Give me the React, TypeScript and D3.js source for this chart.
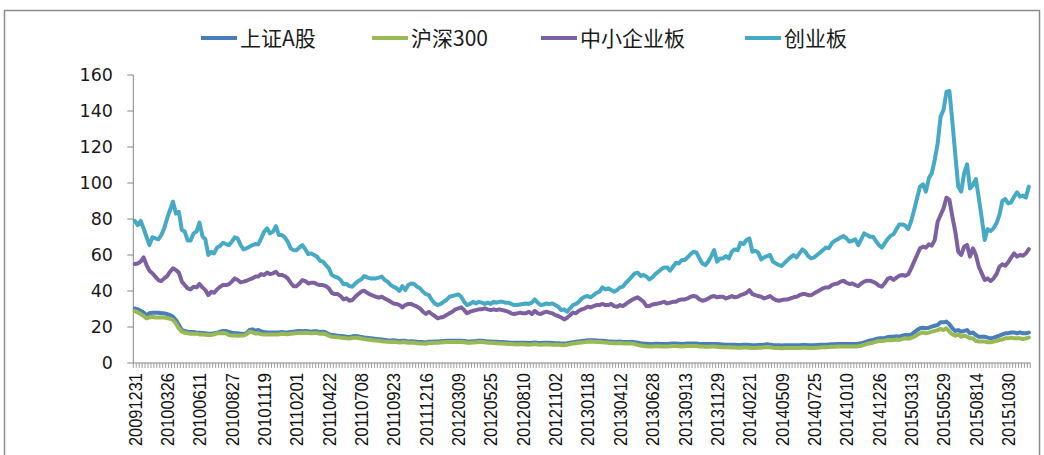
import React from "react";
import * as d3 from "d3";

// ---- data (weekly, 305 observations from 20091231) ----
const tickLabels = [
  "20091231","20100326","20100611","20100827","20101119","20110201","20110422",
  "20110708","20110923","20111216","20120309","20120525","20120810","20121102",
  "20130118","20130412","20130628","20130913","20131129","20140221","20140509",
  "20140725","20141010","20141226","20150313","20150529","20150814","20151030",
];
const tickEvery = 11;
const yTicks = [0, 20, 40, 60, 80, 100, 120, 140, 160];

const shA = [
  30.3,29.8,29,28.1,26.6,27.6,27.9,27.9,27.9,27.6,
  27.6,27.2,26.6,25.7,23.9,21.1,18.3,17.8,17.4,17.2,
  17.2,16.8,16.8,16.7,16.5,16.3,16.3,16.5,16.8,17.4,
  17.8,17.8,17.2,16.8,16.5,16.5,16.3,16.1,16.5,18.3,
  18.7,17.9,18.3,17.6,17.2,17,17,17,17,17,
  17.2,17.0,17.0,17.2,17.4,17.6,17.8,17.6,17.8,17.6,
  17.4,17.6,17.6,17.2,17.4,17.0,16.0,15.5,15.4,15.2,
  15.0,14.8,14.6,14.5,14.8,15.0,14.8,14.5,14.2,14.0,
  13.8,13.6,13.4,13.2,13.0,12.8,12.6,12.5,12.6,12.4,
  12.2,12.4,12.3,12.0,12.1,12.0,11.8,11.7,11.6,11.4,
  11.8,11.8,11.9,12.0,12.1,12.2,12.3,12.4,12.4,12.4,
  12.4,12.3,12.2,12.0,12.0,12.1,12.2,12.4,12.3,12.2,
  12.0,11.9,11.8,11.8,11.7,11.6,11.5,11.4,11.3,11.3,
  11.2,11.3,11.3,11.2,11.1,11.2,11.4,11.2,11.1,11.2,
  11.3,11.2,11.1,11.0,11.0,10.9,10.8,11.0,11.3,11.6,
  11.8,12.0,12.2,12.4,12.6,12.7,12.6,12.5,12.4,12.3,
  12.2,12.0,11.9,11.8,11.8,11.9,11.7,11.6,11.7,11.8,
  11.6,11.3,11.0,10.8,10.7,10.6,10.6,10.7,10.7,10.6,
  10.6,10.6,10.7,10.8,10.8,10.7,10.6,10.7,10.8,10.9,
  10.9,10.8,10.6,10.5,10.5,10.5,10.6,10.6,10.5,10.4,
  10.3,10.2,10.2,10.1,10.1,10.0,10.0,10.1,10.1,10.0,
  9.9,9.9,10.0,10.0,10.2,10.4,10.2,10.0,9.9,9.8,
  9.7,9.8,9.8,9.8,9.9,9.9,9.9,10.0,10.0,9.9,
  9.9,9.9,10.0,10.1,10.2,10.2,10.3,10.4,10.4,10.5,
  10.5,10.6,10.6,10.5,10.6,10.6,10.7,11.0,11.5,12.0,
  12.5,12.8,13.3,13.7,13.7,13.9,14.4,14.6,14.6,14.8,
  14.6,15.2,15.6,15.4,15.8,17,18.3,19.3,19.6,19.3,
  19.6,20.2,20.7,21.1,22.6,22.6,23,21.5,19.3,17.8,
  18.3,17.4,17.8,18.3,16.5,17,15.6,14.6,14.6,14.6,
  14.1,13.7,14.1,14.6,15.2,15.9,16.5,16.5,17,17,
  16.5,17,16.5,16.5,16.9,
];

const hs300 = [
  28.9,28.1,27.2,26.1,24.8,25.3,25.7,25.3,25.3,25.3,
  25.3,25,24.6,23.9,22,19.2,17.4,16.8,16.5,16.3,
  16.3,16.3,15.9,15.9,15.7,15.5,15.6,15.9,16.5,16.5,
  16.6,16.5,15.6,15.3,15.3,15.2,15.3,15.3,15.9,17.4,
  17,16.4,16.5,16,15.9,15.9,15.9,15.8,15.9,15.9,
  16.2,16.1,16.0,16.2,16.4,16.6,16.8,16.7,16.8,16.7,
  16.5,16.7,16.6,16.3,16.4,16.0,15.1,14.6,14.5,14.3,
  14.1,13.9,13.7,13.6,13.9,14.1,13.9,13.6,13.3,13.1,
  12.9,12.7,12.5,12.3,12.1,11.9,11.8,11.7,11.8,11.6,
  11.4,11.6,11.5,11.2,11.3,11.2,11.0,10.9,10.8,10.7,
  11.1,11.1,11.2,11.3,11.4,11.5,11.6,11.7,11.7,11.7,
  11.7,11.6,11.5,11.3,11.3,11.4,11.5,11.7,11.6,11.5,
  11.3,11.2,11.1,11.0,10.9,10.8,10.7,10.6,10.5,10.4,
  10.3,10.4,10.4,10.3,10.2,10.3,10.5,10.3,10.2,10.3,
  10.4,10.3,10.2,10.1,10.1,10.0,9.9,10.1,10.5,10.8,
  11.0,11.2,11.4,11.6,11.8,11.9,11.8,11.7,11.6,11.5,
  11.4,11.2,11.1,11.0,11.0,11.1,10.9,10.8,10.9,10.9,
  10.5,10.1,9.7,9.5,9.3,9.2,9.2,9.3,9.3,9.2,
  9.2,9.2,9.3,9.4,9.4,9.3,9.2,9.3,9.4,9.5,
  9.5,9.4,9.2,9.1,9.0,9.0,9.1,9.1,9.0,8.9,
  8.8,8.7,8.7,8.6,8.6,8.5,8.5,8.6,8.6,8.5,
  8.4,8.4,8.5,8.5,8.7,8.9,8.7,8.5,8.4,8.3,
  8.2,8.3,8.3,8.3,8.4,8.4,8.4,8.5,8.5,8.4,
  8.4,8.4,8.5,8.6,8.8,8.8,8.9,9.0,9.0,9.1,
  9.1,9.2,9.2,9.1,9.2,9.2,9.3,9.6,10.1,10.6,
  11.0,11.3,11.8,12.2,12.2,12.4,12.8,12.6,12.8,13.0,
  12.8,13.4,13.7,13.5,13.9,14.6,15.6,16.5,17.0,16.5,
  16.9,17.4,17.8,18.3,18.9,18.3,19.3,17.4,15.9,15.2,
  15.9,14.6,15.2,14.6,13.7,13.7,12.2,11.9,11.9,11.9,
  11.5,11.5,11.9,12.2,12.8,13.1,13.7,13.7,14.1,13.7,
  13.7,13.7,13.3,13.7,14.1,
];

const zxb = [
  55,55.3,56.3,58.7,54.4,51.3,49.8,48,46.1,45.5,
  47,48.3,50.7,52.6,51.6,50.2,45.2,43.3,41.5,40.9,
  42.4,42,43.9,42,40.5,37.7,39.6,39,40.9,42.4,
  43.3,43.3,43.7,45.2,47,46.1,44.8,45.2,45.7,46.4,
  47,48,48,49.4,48.9,50.2,49.4,49.8,50.7,48.9,
  48.9,48.3,47,44.6,42.7,42.7,44.2,46.1,45.5,44.2,
  44.6,44.6,43.7,43.3,43.3,42.7,41.5,39,38.3,38.3,
  37.2,35.3,35.9,34.6,35,36.8,38.3,39.6,40.2,39,
  38.1,37.4,36.8,36.3,36.8,35.9,35,34,33.1,32.8,
  32.2,30.9,32.2,32.8,32.8,32,31.3,30.3,28.5,27.2,
  28.5,27.2,26.1,24.8,25.3,25.7,26.6,27.6,28.5,29.8,
  30.3,30.9,29.4,27.6,28.5,29,29.4,29.8,29.8,30.3,
  29.8,29.4,29.8,29.4,29.8,29.4,29,28.5,27.6,27.2,
  27.6,28,27.6,27.6,28.5,27.2,29,27.6,27.2,28,
  28.5,28,27.6,26.6,26.1,25.3,24.2,25.1,26.6,28,
  27.6,29,29.8,30.3,31.3,30.9,31.6,32.2,32.2,32.8,
  32.2,32.2,32.8,31.6,31.3,32.2,31.6,32.8,34,35,
  35.9,36.5,35.3,34,31.6,31.6,32.5,32.8,33.1,33.5,
  34,33.1,33.5,34,34,35,35.3,35.3,35.9,36.8,
  37.2,36.8,35.3,34.6,35,35.9,36.8,37.2,36.5,36.8,
  36.8,35.9,36.5,37.2,36.5,36.8,37.7,38.3,39,40.5,
  38.3,37.7,37.2,36.8,35.9,36.5,37.2,35.9,35,34.6,
  35,35.3,35.3,35.9,36.5,36.8,37.7,38.3,38.3,37.7,
  37.7,38.7,39.6,40.5,41.5,42,42,43.3,43.9,44.2,
  45.2,45.7,44.6,43.9,44.2,43.3,42.7,44.2,45.2,45.7,
  45.7,45.2,44.3,43,42.4,44.3,46.7,47.4,46.1,47.4,
  48.5,48.9,48.5,49.3,52.6,56.3,60,63.7,64.6,64.1,
  65.9,65.2,68.3,78.5,82.2,85.9,91.9,90.6,81.3,73,
  61.9,60,64.6,65.6,59.1,63.7,60,53.5,49.8,46.1,
  47,45.6,47,49.3,53.5,54.8,54.1,56,58.5,60.9,
  59.1,60,59.6,60.9,63.3,
];

const cyb = [
  79,76.6,79,74.8,70,65.5,69.8,69.2,68.7,71,
  74.8,80.3,85,89.6,83,84,73.9,73,68,68,
  72,73,78,70.5,68.7,60,61.8,60.9,64.2,65,
  66.8,66.1,65.5,67.4,69.8,69.2,65.5,63.1,63.7,64.6,
  65.5,66.1,65.9,69.2,73,74.8,72,73,76,71.1,
  71.1,69.8,67.4,63.7,62.7,62.7,64.2,65.5,63.1,60.5,
  60.9,60,59,56.8,56.3,54.4,52.6,48.9,48,47.4,
  46.1,43.7,43.9,42.7,42.4,44.2,45.5,46.4,48.3,47.6,
  47,47,47,47.4,48,46.1,45.2,43.3,42.4,41.5,
  40,42.7,40.5,43.3,44.2,43.9,42.4,41.5,39.6,38.3,
  37.7,35,33.1,32.2,32.8,34,35,36.8,37.2,37.7,
  38.1,36.8,34,32.2,32.8,34,33.1,34,33.5,32.8,
  33.5,32.8,34,33.5,34,34,33.5,33.5,32.8,32.2,
  32.2,32.5,32.8,33.1,32.8,33.5,35.3,33.5,32.2,32.5,
  33.1,32.8,33.1,32.2,31.3,29.4,29.8,28.5,30.3,32.2,
  32.8,34,35.9,36.8,37.2,36.5,37.7,39,39.6,42,
  40.9,41.5,40.5,39.6,40.5,42,42.4,44.6,46.1,48,
  49.8,50.2,48.3,48.9,48,46.4,47.6,49.4,50.7,52,
  53.1,53.1,51.3,53.5,55.7,55.3,57.2,57.2,58.7,60.5,
  61.8,61.3,58.1,55.3,54.4,56.3,59.4,62.7,56.3,58.1,
  58.1,59.4,58.1,61.8,63.1,62.7,66.8,66.1,68.3,69.2,
  61.8,62.4,61.3,57.6,58.7,59.4,60,56.3,55.3,54.4,
  53.9,55.7,57.2,58.7,60,58.7,60.9,63.1,61.8,59.4,
  58.1,58.7,60,61.3,62.7,64.2,63.7,66.5,67.9,68.7,
  69.8,70.5,69.2,67.4,67.9,68.7,65.5,68.7,72,71.1,
  70.2,70.2,67.8,65.6,64.1,66.5,68.9,70.7,71.5,74.4,
  77,77,76.3,74.4,78.9,85,91.5,98,99.3,95.2,
  102.6,105.4,112.8,122,136.9,140.6,150.7,151.1,134.1,115.6,
  98,95.2,105.4,110.4,97,98.9,102.2,91.5,80.4,68.3,
  74.4,73.3,74.8,77.6,82.2,90,91.1,88.7,89.3,92.4,
  94.8,92.4,93,91.9,98,
];

const seriesNames = ["上证A股", "沪深300", "中小企业板", "创业板"];
const seriesColors = ["#4a7ebb", "#98b954", "#7d60a0", "#46aac5"];
const seriesData = [shA, hs300, zxb, cyb];

// ---- layout ----
const W = 1044;
const H = 455;
const plot = { left: 133.3, right: 1030.3, top: 75, bottom: 363 };
const legendX = [201, 372, 541, 745];
const legendY = 38;

export default function App() {
  const n = cyb.length;
  const x = d3.scaleBand<number>().domain(d3.range(n)).range([plot.left, plot.right]).padding(0);
  const y = d3.scaleLinear().domain([0, 160]).range([plot.bottom, plot.top]);
  const bw = x.bandwidth();
  const line = d3
    .line<number>()
    .x((_, i) => (x(i) as number) + bw / 2)
    .y((d) => y(d));
  const axisColor = "#868686";
  const boundaries = d3.range(n + 1).map((i) => plot.left + i * bw);

  return (
    <svg
      width={W}
      height={H}
      style={{ position: "absolute", left: 0, top: 0, background: "#fff" }}
    >
      <rect x={0} y={0} width={W} height={H} fill="#fff" />
      <rect x={4.5} y={10.5} width={1035} height={470} fill="none" stroke="#8c8c8c" strokeWidth={1.5} />

      {/* legend */}
      {seriesNames.map((name, k) => (
        <g key={name}>
          <line
            x1={legendX[k]}
            x2={legendX[k] + 36}
            y1={legendY}
            y2={legendY}
            stroke={seriesColors[k]}
            strokeWidth={4}
          />
          <text
            x={legendX[k] + 39}
            y={legendY}
            dy="0.36em"
            fontFamily="'Noto Sans CJK SC', sans-serif"
            fontSize={21}
            fill="#1a1a1a"
          >
            {name}
          </text>
        </g>
      ))}

      {/* y axis */}
      <line x1={plot.left} x2={plot.left} y1={plot.top} y2={plot.bottom} stroke={axisColor} strokeWidth={1} />
      {yTicks.map((t) => (
        <g key={t}>
          <line x1={plot.left - 6} x2={plot.left} y1={y(t)} y2={y(t)} stroke={axisColor} strokeWidth={1} />
          <text
            x={113}
            y={y(t)}
            dy="0.36em"
            textAnchor="end"
            fontFamily="'DejaVu Sans', sans-serif"
            fontSize={17.5}
            fill="#1a1a1a"
          >
            {t}
          </text>
        </g>
      ))}

      {/* x axis */}
      <line x1={plot.left} x2={plot.right} y1={plot.bottom} y2={plot.bottom} stroke={axisColor} strokeWidth={1} />
      {boundaries.map((bx, i) => (
        <line key={i} x1={bx} x2={bx} y1={plot.bottom} y2={plot.bottom + 5} stroke={axisColor} strokeWidth={0.8} />
      ))}
      {tickLabels.map((lab, k) => {
        const cx = (x(k * tickEvery) as number) + bw / 2;
        return (
          <text
            key={lab}
            transform={`translate(${cx + 6.8},${plot.bottom + 10}) rotate(-90)`}
            textAnchor="end"
            fontFamily="'Liberation Sans', Arial, sans-serif"
            fontSize={19}
            textLength={73}
            lengthAdjust="spacingAndGlyphs"
            fill="#111"
          >
            {lab}
          </text>
        );
      })}

      {/* series */}
      {seriesData.map((s, k) => (
        <path
          key={seriesNames[k]}
          d={line(s) || ""}
          fill="none"
          stroke={seriesColors[k]}
          strokeWidth={4}
          strokeLinejoin="round"
          strokeLinecap="round"
        />
      ))}
    </svg>
  );
}
